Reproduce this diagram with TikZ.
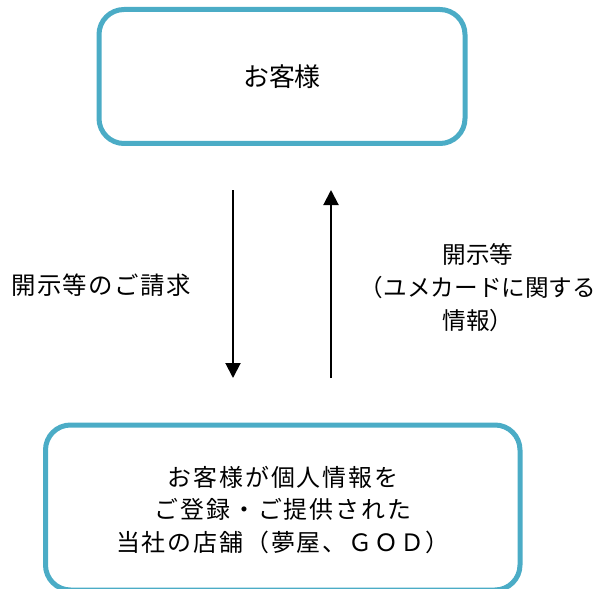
\documentclass[tikz,border=0pt]{standalone}
\usepackage{fontspec}
\usetikzlibrary{arrows.meta}
\newfontfamily\jpfont{Noto Sans CJK JP}
\newfontfamily\jpwide[LetterSpace=6]{Noto Sans CJK JP}
\newfontfamily\jpwider[LetterSpace=8]{Noto Sans CJK JP}
\definecolor{boxblue}{HTML}{4BACC6}
\begin{document}
\begin{tikzpicture}[x=1bp,y=-1bp,
  roundbox/.style={draw=boxblue,line width=5bp,rounded corners=25bp},
  lbl/.style={inner sep=0pt,align=center,font=\jpfont\fontsize{24}{33}\selectfont},
  arr/.style={line width=2bp,-{Triangle[width=15bp,length=15bp]}}]
\useasboundingbox (0,0) rectangle (599,589);
\draw[roundbox] (99,9.5) rectangle (465,143.5);
\draw[roundbox] (45.5,425) rectangle (520,590);
\node[lbl,font=\jpfont\fontsize{26}{30}\selectfont] (cust) at (282,77) {お客様};
\node[lbl,font=\jpwider\fontsize{24}{33}\selectfont] (shop) at (283,510) {お客様が個人情報を\\ご登録・ご提供された\\当社の店舗（夢屋、ＧＯＤ）};
\node[lbl,font=\jpwide\fontsize{24.5}{33}\selectfont] (req) at (101,285) {開示等のご請求};
\node[lbl,font=\jpfont\fontsize{23.7}{33}\selectfont] (disc) at (478,288) {開示等\\（ユメカードに関する\\情報）};
\coordinate (a1s) at (233,190);
\coordinate (a1e) at (233,378);
\coordinate (a2s) at (331,378);
\coordinate (a2e) at (331,190);
\draw[arr] (a1s) -- (a1e);
\draw[arr] (a2s) -- (a2e);
\end{tikzpicture}
\end{document}
